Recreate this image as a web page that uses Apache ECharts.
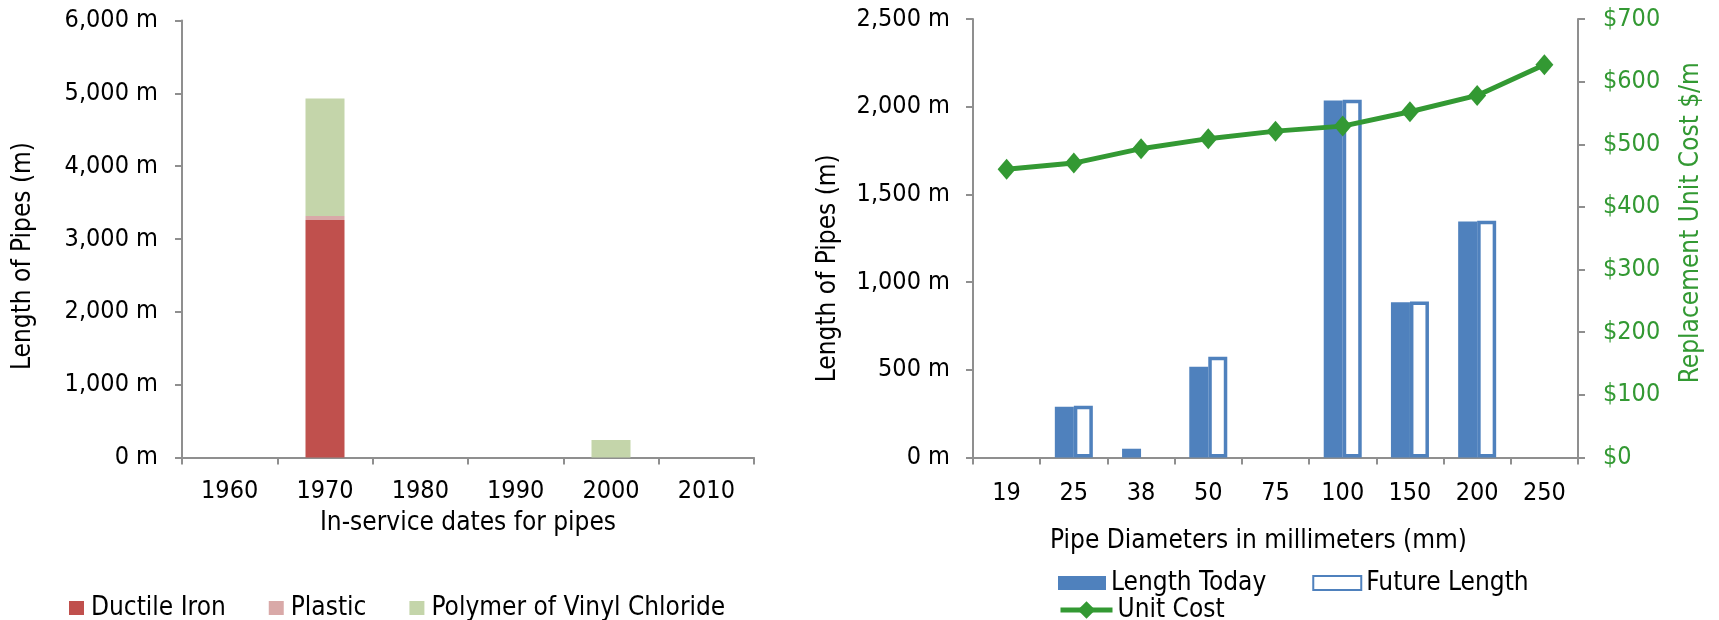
<!DOCTYPE html>
<html>
<head>
<meta charset="utf-8">
<title>Water pipe inventory</title>
<script src="https://cdn.jsdelivr.net/npm/echarts@6/dist/echarts.min.js"></script>
<style>
  html, body { margin: 0; padding: 0; background: #ffffff; }
  #chart { width: 1719px; height: 620px; }
</style>
</head>
<body>
<div id="chart"></div>
<script>
// Pipes by in-service decade (metres)
const decades = ['1960', '1970', '1980', '1990', '2000', '2010'];
const ductileIron = [0, 3260, 0, 0, 0, 0];
const plastic = [0, 55, 0, 0, 0, 0];
const pvc = [0, 1615, 0, 0, 240, 0];
const decadeTicks = [0, 1000, 2000, 3000, 4000, 5000, 6000];

// Pipes by diameter (mm): current and future length (m), replacement cost ($/m)
const diameters = ['19', '25', '38', '50', '75', '100', '150', '200', '250'];
const lengthToday = [null, 290, 50, 518, null, 2035, 885, 1345, null];
const futureLength = [null, 295, null, 575, null, 2040, 890, 1350, null];
const unitCost = [460, 470, 493, 509, 521, 529, 552, 578, 627];
const lengthTicks = [0, 500, 1000, 1500, 2000, 2500];
const costTicks = [0, 100, 200, 300, 400, 500, 600, 700];

const FONT = '"DejaVu Sans Condensed", "DejaVu Sans", sans-serif';
const TICK_FS = 25;
const TEXT_FS = 26;
const AXIS_GRAY = '#8f8f8f';
const GREEN = '#339933';
const BLUE = '#4F81BD';

const fmtMetres = v => v.toLocaleString('en-US') + ' m';
const fmtDollars = v => '$' + v;

const axisLine = { show: true, lineStyle: { color: AXIS_GRAY, width: 2 } };
const axisTick = { show: true, length: 7, lineStyle: { color: AXIS_GRAY, width: 2 } };
const tickTxt = (color) => ({ color: color || '#000', fontFamily: FONT, fontSize: TICK_FS });
const txt = (color) => ({ color: color || '#000', fontFamily: FONT, fontSize: TEXT_FS });

const chart = echarts.init(document.getElementById('chart'), null, { renderer: 'canvas' });

chart.setOption({
  animation: false,
  backgroundColor: '#ffffff',
  textStyle: { fontFamily: FONT },
  grid: [
    { left: 182, top: 20.5, width: 572, height: 437 },
    { left: 973, top: 19, width: 605, height: 438.5 }
  ],
  legend: [
    {
      data: ['Ductile Iron', 'Plastic', 'Polymer of Vinyl Chloride'],
      left: 64, top: 590,
      icon: 'rect', itemWidth: 15, itemHeight: 14, itemGap: 43,
      textStyle: Object.assign(txt(), { padding: [0, 0, 0, 2] })
    },
    {
      data: ['Length Today', 'Future Length'],
      left: 1053, top: 565,
      icon: 'rect', itemWidth: 48, itemHeight: 14, itemGap: 46,
      textStyle: txt()
    },
    {
      data: ['Unit Cost'],
      left: 1053, top: 592,
      itemWidth: 52, itemHeight: 22,
      lineStyle: { width: 5 },
      textStyle: txt()
    }
  ],
  xAxis: [
    {
      type: 'category', gridIndex: 0, data: decades,
      boundaryGap: true,
      axisLine: axisLine,
      axisTick: Object.assign({ interval: 0 }, axisTick),
      axisLabel: Object.assign({ margin: 21, interval: 0 }, tickTxt()),
      splitLine: { show: false },
      name: 'In-service dates for pipes',
      nameLocation: 'middle', nameGap: 53,
      nameTextStyle: txt()
    },
    {
      type: 'category', gridIndex: 1, data: diameters,
      boundaryGap: true,
      axisLine: axisLine,
      axisTick: Object.assign({ interval: 0 }, axisTick),
      axisLabel: Object.assign({ margin: 23, interval: 0 }, tickTxt()),
      splitLine: { show: false },
      name: 'Pipe Diameters in millimeters (mm)',
      nameLocation: 'middle', nameGap: 71,
      nameTextStyle: Object.assign(txt(), { padding: [0, 34, 0, 0] })
    }
  ],
  yAxis: [
    {
      type: 'value', gridIndex: 0,
      min: decadeTicks[0], max: decadeTicks[decadeTicks.length - 1], interval: 1000,
      axisLine: axisLine, axisTick: axisTick,
      axisLabel: Object.assign({ margin: 24, formatter: fmtMetres }, tickTxt()),
      splitLine: { show: false },
      name: 'Length of Pipes (m)',
      nameLocation: 'middle', nameGap: 146,
      nameTextStyle: Object.assign(txt(), { padding: [0, 34, 0, 0] })
    },
    {
      type: 'value', gridIndex: 1,
      min: lengthTicks[0], max: lengthTicks[lengthTicks.length - 1], interval: 500,
      axisLine: axisLine, axisTick: axisTick,
      axisLabel: Object.assign({ margin: 23, formatter: fmtMetres }, tickTxt()),
      splitLine: { show: false },
      name: 'Length of Pipes (m)',
      nameLocation: 'middle', nameGap: 132,
      nameTextStyle: Object.assign(txt(), { padding: [0, 60, 0, 0] })
    },
    {
      type: 'value', gridIndex: 1, position: 'right',
      min: costTicks[0], max: costTicks[costTicks.length - 1], interval: 100,
      axisLine: axisLine, axisTick: axisTick,
      axisLabel: Object.assign({ margin: 25, formatter: fmtDollars }, tickTxt(GREEN)),
      splitLine: { show: false },
      name: 'Replacement Unit Cost $/m',
      nameLocation: 'middle', nameGap: 100,
      nameTextStyle: Object.assign(txt(GREEN), { padding: [0, 0, 0, 31] })
    }
  ],
  series: [
    {
      name: 'Ductile Iron', type: 'bar', stack: 'decade',
      xAxisIndex: 0, yAxisIndex: 0, barWidth: 39,
      itemStyle: { color: '#C0504D' },
      data: ductileIron
    },
    {
      name: 'Plastic', type: 'bar', stack: 'decade',
      xAxisIndex: 0, yAxisIndex: 0, barWidth: 39,
      itemStyle: { color: '#D9A9A8' },
      data: plastic
    },
    {
      name: 'Polymer of Vinyl Chloride', type: 'bar', stack: 'decade',
      xAxisIndex: 0, yAxisIndex: 0, barWidth: 39,
      itemStyle: { color: '#C4D5AA' },
      data: pvc
    },
    {
      name: 'Length Today', type: 'bar',
      xAxisIndex: 1, yAxisIndex: 1, barWidth: 19, barGap: '0%',
      itemStyle: { color: BLUE },
      data: lengthToday
    },
    {
      name: 'Future Length', type: 'bar',
      xAxisIndex: 1, yAxisIndex: 1, barWidth: 19, barGap: '0%',
      itemStyle: { color: '#ffffff', borderColor: BLUE, borderWidth: 3.5 },
      data: futureLength
    },
    {
      name: 'Unit Cost', type: 'line',
      xAxisIndex: 1, yAxisIndex: 2,
      symbol: 'diamond', symbolSize: [18, 21],
      lineStyle: { color: GREEN, width: 5 },
      itemStyle: { color: GREEN },
      z: 5,
      data: unitCost
    }
  ]
});
</script>
</body>
</html>
